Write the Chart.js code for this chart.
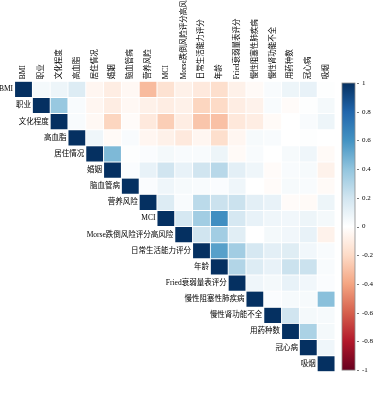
<!DOCTYPE html>
<html>
<head>
<meta charset="utf-8">
<script src="https://cdn.jsdelivr.net/npm/chart.js@4.4.1/dist/chart.umd.min.js"></script>
<style>body{margin:0;background:#fff}</style>
</head>
<body>
<canvas id="corrChart" width="374" height="403"></canvas>
<script>
// variable names (rows and columns of the matrix)
const vars = ['BMI','职业','文化程度','高血脂','居住情况','婚姻','脑血管病','营养风险','MCI',
  'Morse跌倒风险评分高风险','日常生活能力评分','年龄','Fried衰弱量表评分','慢性阻塞性肺疾病',
  '慢性肾功能不全','用药种数','冠心病','吸烟'];

// upper triangle, each row starts at the diagonal
const rBMI   = [1, 0.05, 0.08, 0.15, -0.05, -0.10, -0.04, -0.32, -0.16, -0.08, -0.12, -0.18, -0.08, -0.03, 0.03, 0.08, 0.10, 0.01];
const rJob   = [1, 0.38, 0.03, -0.05, -0.10, -0.04, -0.08, -0.10, -0.08, -0.22, -0.20, -0.10, -0.07, 0.03, -0.02, 0.01, 0.05];
const rEdu   = [1, 0.03, -0.04, -0.22, -0.02, -0.12, -0.25, -0.10, -0.28, -0.30, -0.13, -0.10, -0.03, 0.00, 0.03, 0.08];
const rLipid = [1, 0.07, -0.03, 0.03, -0.05, -0.08, -0.12, -0.05, -0.18, -0.05, 0.04, 0.03, 0.00, 0.01, 0.00];
const rLive  = [1, 0.45, 0.01, 0.02, 0.05, 0.03, 0.03, 0.08, -0.03, 0.03, 0.00, 0.04, 0.07, -0.03];
const rMarry = [1, 0.02, 0.10, 0.20, 0.10, 0.20, 0.28, 0.12, 0.07, -0.02, 0.03, 0.04, -0.07];
const rCvd   = [1, 0.02, 0.07, 0.04, 0.03, 0.02, 0.07, 0.00, -0.02, 0.04, 0.03, -0.03];
const rNutr  = [1, 0.15, 0.03, 0.27, 0.22, 0.22, 0.12, 0.10, -0.02, -0.03, 0.08];
const rMci   = [1, 0.18, 0.35, 0.62, 0.18, 0.10, 0.07, 0.06, 0.08, 0.05];
const rMorse = [1, 0.20, 0.35, 0.13, 0.00, 0.05, 0.06, 0.10, -0.07];
const rAdl   = [1, 0.55, 0.35, 0.18, 0.12, 0.14, 0.06, 0.03];
const rAge   = [1, 0.30, 0.15, 0.10, 0.22, 0.22, 0.03];
const rFried = [1, 0.07, 0.05, 0.10, 0.06, 0.02];
const rCopd  = [1, 0.02, 0.04, 0.04, 0.42];
const rCkd   = [1, 0.20, 0.05, 0.04];
const rDrug  = [1, 0.32, 0.05];
const rChd   = [1, 0.07];
const rSmoke = [1];

const corRows = [rBMI, rJob, rEdu, rLipid, rLive, rMarry, rCvd, rNutr, rMci, rMorse, rAdl, rAge, rFried, rCopd, rCkd, rDrug, rChd, rSmoke];
const cbTicks = [-1, -0.8, -0.6, -0.4, -0.2, 0, 0.2, 0.4, 0.6, 0.8, 1];

const rdbu = ['#67001F','#B2182B','#D6604D','#F4A582','#FDDBC7','#FFFFFF','#D1E5F0','#92C5DE','#4393C3','#2166AC','#053061'];
const fontFam = '"Liberation Serif", "Noto Sans CJK SC", serif';

function hex2rgb(h) {
  return [parseInt(h.substr(1,2),16), parseInt(h.substr(3,2),16), parseInt(h.substr(5,2),16)];
}
function corColor(v) {
  const t = (v + 1) / 2 * 10;
  const i = Math.max(0, Math.min(9, Math.floor(t)));
  const f = t - i;
  const a = hex2rgb(rdbu[i]), b = hex2rgb(rdbu[i+1]);
  const c = a.map((x, k) => Math.round(x + (b[k] - x) * f));
  return 'rgb(' + c.join(',') + ')';
}

const datasets = corRows.map(function(row, r) {
  return {
    yAxisID: 'y',
    data: vars.map((v, c) => c < r ? null : [r, r + 1]),
    backgroundColor: function(ctx) {
      const v = row[ctx.dataIndex - r];
      return corColor(v === undefined ? 0 : v);
    },
    borderColor: '#ffffff',
    borderWidth: 0.8,
    borderSkipped: false,
    barPercentage: 1,
    categoryPercentage: 1,
    grouped: false
  };
});

// column labels, row labels next to the diagonal, colour bar
const corrExtras = {
  id: 'corrExtras',
  afterDraw(chart) {
    const ctx = chart.ctx;
    const x = chart.scales.x, y = chart.scales.y, cb = chart.scales.cb;
    const hw = (x.getPixelForValue(1) - x.getPixelForValue(0)) / 2;
    ctx.save();
    ctx.fillStyle = '#000';
    ctx.font = '7.5px ' + fontFam;
    ctx.textBaseline = 'middle';

    vars.forEach(function(name, c) {
      ctx.save();
      ctx.translate(x.getPixelForValue(c), chart.chartArea.top - 2);
      ctx.rotate(-Math.PI / 2);
      ctx.textAlign = 'left';
      ctx.fillText(name, 0, 0);
      ctx.restore();
    });

    ctx.textAlign = 'right';
    vars.forEach(function(name, r) {
      ctx.fillText(name, x.getPixelForValue(r) - hw - 1.5, y.getPixelForValue(r + 0.5));
    });

    const top = cb.getPixelForValue(1), bot = cb.getPixelForValue(-1);
    const bx = cb.left + 7, bw = 13;
    const grad = ctx.createLinearGradient(0, bot, 0, top);
    rdbu.forEach((c, i) => grad.addColorStop(i / 10, c));
    ctx.fillStyle = grad;
    ctx.fillRect(bx, top, bw, bot - top);
    ctx.strokeStyle = '#8a8a8a';
    ctx.lineWidth = 0.8;
    ctx.strokeRect(bx, top, bw, bot - top);
    ctx.strokeStyle = '#555';
    cbTicks.forEach(function(v) {
      const py = Math.round(cb.getPixelForValue(v)) + 0.5;
      ctx.beginPath();
      ctx.moveTo(bx + bw + 2, py);
      ctx.lineTo(bx + bw + 4, py);
      ctx.stroke();
    });
    ctx.restore();
  }
};

new Chart(document.getElementById('corrChart'), {
  type: 'bar',
  data: { labels: vars, datasets: datasets },
  options: {
    responsive: false,
    animation: false,
    devicePixelRatio: 1,
    layout: { padding: { left: 14.6, bottom: 2, top: 0, right: 0 } },
    plugins: { legend: { display: false }, tooltip: { enabled: false } },
    scales: {
      x: {
        type: 'category',
        position: 'top',
        offset: true,
        grid: { display: false, drawTicks: false, tickLength: 0 },
        border: { display: false },
        ticks: { display: false },
        afterFit: function(s) { s.height = 81.3; }
      },
      y: { type: 'linear', min: 0, max: 18, reverse: true, display: false },
      cb: {
        type: 'linear',
        position: 'right',
        min: -1.012,
        max: 1.012,
        afterBuildTicks: function(s) { s.ticks = cbTicks.map(v => ({ value: v })); },
        grid: { display: false, drawTicks: false, tickLength: 0 },
        border: { display: false },
        ticks: { padding: 27, crossAlign: 'near', color: '#000', font: { size: 7, family: fontFam },
                 callback: v => String(v) },
        afterFit: function(s) { s.width = 39; }
      }
    }
  },
  plugins: [corrExtras]
});
</script>
</body>
</html>
